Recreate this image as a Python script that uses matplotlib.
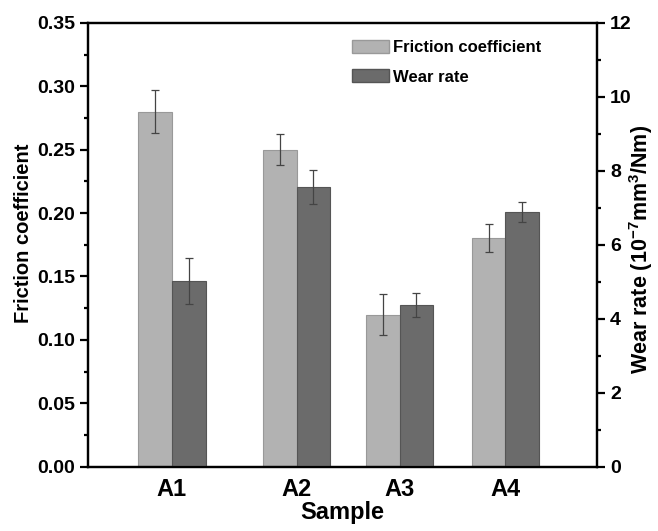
import matplotlib.pyplot as plt
from matplotlib.ticker import MultipleLocator
from matplotlib.patches import Patch

plt.rcParams['font.family'] = ['Liberation Sans', 'DejaVu Sans']
plt.rcParams['font.weight'] = 'bold'
plt.rcParams['mathtext.fontset'] = 'custom'
plt.rcParams['mathtext.rm'] = 'Liberation Sans:bold'
plt.rcParams['mathtext.bf'] = 'Liberation Sans:bold'
plt.rcParams['mathtext.it'] = 'Liberation Sans:bold'

samples = ['A1', 'A2', 'A3', 'A4']
# group centres are unevenly spaced in the original
positions = [0.825, 2.05, 3.06, 4.10]
friction = [0.28, 0.25, 0.12, 0.18]
friction_err = [0.017, 0.012, 0.016, 0.011]
wear = [5.03, 7.57, 4.37, 6.88]
wear_err = [0.62, 0.46, 0.32, 0.27]

light = '#b2b2b2'
dark = '#6b6b6b'
bar_w = 0.33

fig = plt.figure(figsize=(6.58, 5.31), dpi=100)
ax1 = fig.add_axes([0.1337, 0.121, 0.7736, 0.836])
ax2 = ax1.twinx()

err_kw = dict(ecolor='#444444', elinewidth=0.9, capsize=3, capthick=0.9)
ax1.bar([p - bar_w / 2 for p in positions], friction, bar_w, yerr=friction_err,
        color=light, edgecolor='#999999', linewidth=0.8, error_kw=err_kw, zorder=2)
ax2.bar([p + bar_w / 2 for p in positions], wear, bar_w, yerr=wear_err,
        color=dark, edgecolor='#555555', linewidth=0.8, error_kw=err_kw, zorder=2)

ax1.set_xlim(0, 5)
ax1.set_ylim(0, 0.35)
ax2.set_ylim(0, 12)
ax1.set_xticks(positions)
ax1.set_xticklabels(samples, fontsize=17, fontweight='bold')
ax1.tick_params(axis='x', length=0, pad=8)

ax1.yaxis.set_major_locator(MultipleLocator(0.05))
ax1.yaxis.set_minor_locator(MultipleLocator(0.025))
ax1.yaxis.set_major_formatter(plt.FuncFormatter(lambda v, p: f'{v:.2f}'))
ax2.yaxis.set_major_locator(MultipleLocator(2))
ax2.yaxis.set_minor_locator(MultipleLocator(1))

for ax in (ax1, ax2):
    for s in ax.spines.values():
        s.set_linewidth(1.6)
    ax.tick_params(axis='y', which='major', length=6, width=1.6, labelsize=14)
    ax.tick_params(axis='y', which='minor', length=3, width=1.6)
    for lbl in ax.get_yticklabels():
        lbl.set_fontweight('bold')

ax1.set_xlabel('Sample', fontsize=17, fontweight='bold', labelpad=0)
ax1.set_ylabel('Friction coefficient', fontsize=14.5, fontweight='bold')
ax1.yaxis.set_label_coords(-0.108, 0.525)
ax2.set_ylabel('Wear rate (10$^{-7}$mm$^{3}$/Nm)', fontsize=15.5, fontweight='bold')
ax2.yaxis.set_label_coords(1.06, 0.49)

handles = [Patch(facecolor=light, edgecolor='#999999'),
           Patch(facecolor=dark, edgecolor='#555555')]
ax1.legend(handles, ['Friction coefficient', 'Wear rate'], loc='upper left',
           bbox_to_anchor=(0.49, 0.995), frameon=False,
           prop={'size': 12, 'weight': 'bold'}, handlelength=2.2,
           handleheight=0.8, handletextpad=0.25, labelspacing=0.85)

fig.savefig('out.png', dpi=100)
